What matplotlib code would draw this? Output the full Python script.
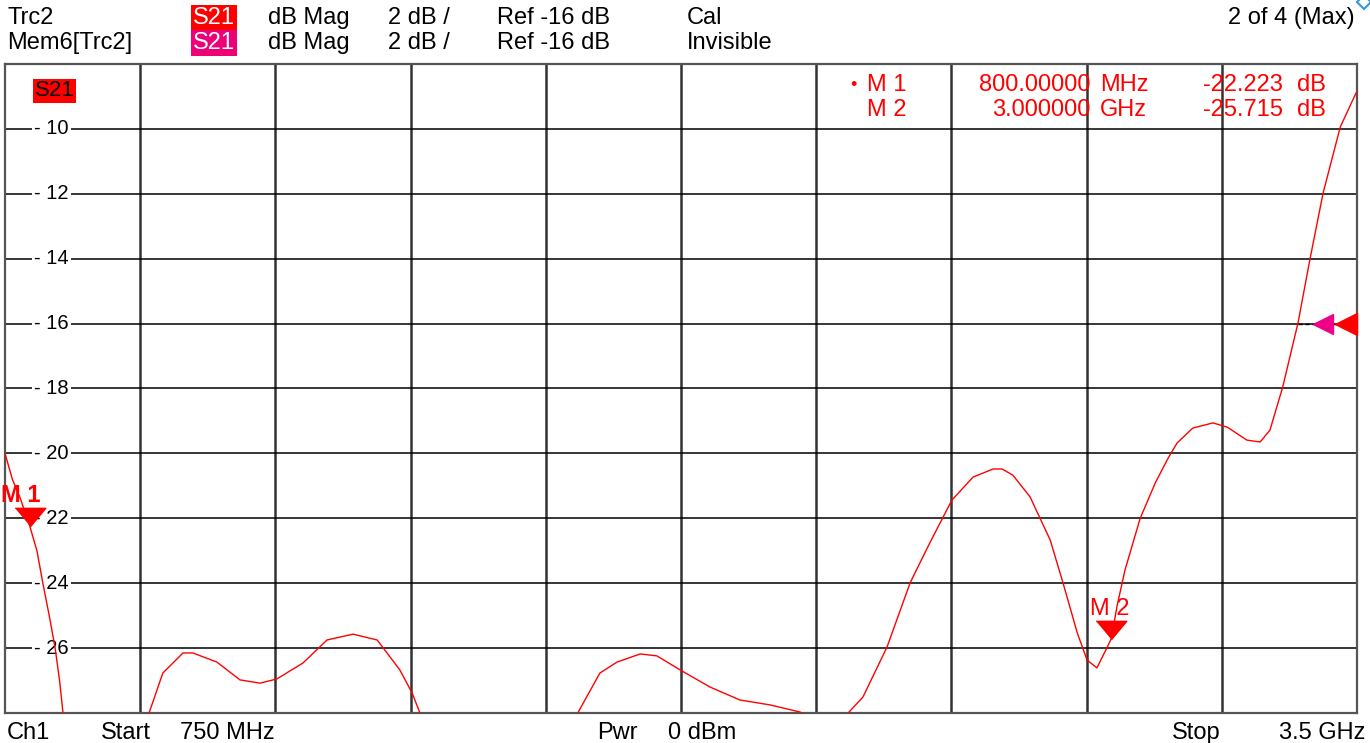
import numpy as np
import matplotlib
matplotlib.use('Agg')
from matplotlib import pyplot as plt
from matplotlib import transforms
from matplotlib.lines import Line2D

plt.rcParams['font.family'] = ['Liberation Sans', 'DejaVu Sans']

# trace (MHz, dB)
freq_mhz = [750, 765, 780, 800, 815, 827, 840, 852, 861, 868, 880,
            1030, 1043, 1071, 1112, 1132, 1181, 1228, 1269, 1303, 1356, 1405,
            1458, 1507, 1553, 1578, 1594, 1610,
            1900, 1915, 1960, 1995, 2042, 2076, 2123, 2184, 2245, 2306, 2367,
            2410, 2450, 2465, 2495, 2544, 2591, 2631, 2676, 2719, 2760, 2778,
            2800, 2835, 2876, 2902, 2931, 2951, 2971, 2992, 3000, 3012, 3028,
            3059, 3090, 3116, 3134, 3166, 3207, 3236, 3276, 3303, 3323, 3349,
            3380, 3404, 3431, 3466, 3496, 3500]
s21_db = [-20.0, -20.8, -21.34, -22.223, -23.0, -24.0, -25.0, -26.0, -27.0, -28.0, -29.0,
          -28.8, -28.0, -26.77, -26.15, -26.15, -26.43, -26.98, -27.08, -26.95, -26.46, -25.75,
          -25.57, -25.75, -26.67, -27.38, -28.0, -28.8,
          -28.6, -28.0, -26.77, -26.43, -26.18, -26.24, -26.67, -27.2, -27.6, -27.75, -27.97,
          -28.3, -28.5, -28.0, -27.51, -25.97, -23.99, -22.76, -21.44, -20.73, -20.48, -20.48,
          -20.67, -21.34, -22.67, -23.99, -25.53, -26.37, -26.61, -25.97, -25.715, -24.7, -23.6,
          -22.0, -20.9, -20.14, -19.68, -19.22, -19.06, -19.19, -19.59, -19.65, -19.28, -17.95,
          -15.98, -14.04, -11.98, -9.94, -8.96, -8.85]

start_mhz = 750
stop_mhz = 3500
ref_db = -16
db_per_div = 2
y_ticks = [-10, -12, -14, -16, -18, -20, -22, -24, -26]

markers = ['M 1', 'M 2']
marker_freq = [800, 3000]
marker_db = [-22.223, -25.715]
marker_freq_txt = ['800.00000', '3.000000']
marker_unit = ['MHz', 'GHz']
marker_db_txt = ['-22.223', '-25.715']

W, H = 1370, 743
fig = plt.figure(figsize=(W / 100, H / 100), dpi=100)


def put(x, y, s, **kw):
    # place text by screen pixel (from top-left)
    kw.setdefault('va', 'center')
    kw.setdefault('fontsize', 17)
    return fig.text(x / W, 1 - y / H, s, **kw)


ax = fig.add_axes([5 / W, 1 - 713 / H, 1352 / W, 649 / H])
ax.set_xlim(start_mhz, stop_mhz)
ax.set_ylim(ref_db - 6 * db_per_div, ref_db + 4 * db_per_div)
ax.set_xticks([])
ax.set_yticks([])
for s in ax.spines.values():
    s.set_color('#555555')
    s.set_linewidth(1.6)

# graticule
step = (stop_mhz - start_mhz) / 10
for k in range(1, 10):
    ax.axvline(start_mhz + k * step, color='#333333', lw=1.8, zorder=1)
for v in y_ticks:
    ax.axhline(v, color='black', lw=1.1, zorder=1)
    ax.text(0.0345, v, str(v).replace('-', '- '), transform=ax.get_yaxis_transform(),
            ha='center', va='center', fontsize=14.5, zorder=2,
            bbox=dict(facecolor='white', edgecolor='none', pad=1.5))

ax.plot(freq_mhz, s21_db, color='#ff0000', lw=1.0, zorder=3)

# marker triangles
tri = [(-5, 3), (5, 3), (0, -3)]
up = transforms.offset_copy(ax.transData, fig=fig, x=0, y=9, units='dots')
for i in range(2):
    ax.plot(marker_freq[i], marker_db[i], marker=tri, ms=22, color='#ff0000',
            transform=up, zorder=5, clip_on=False)
put(1, 495, 'M 1', color='#ff0000', fontweight='bold')
put(1110, 609, 'M 2', color='#ff0000', ha='center')

# reference level arrows
ax.plot([3380, 3490], [ref_db, ref_db], color='black', lw=1.0, ls=(0, (3, 2)), zorder=4)
ax.plot(3431, ref_db, marker='<', ms=14, color='#ee0088', zorder=5, clip_on=False)
ax.plot(3478, ref_db, marker='<', ms=16, color='#ff0000', zorder=5, clip_on=False)

# S21 label in plot
put(35, 91, 'S21', fontsize=16, color='black',
    bbox=dict(facecolor='#ff0000', edgecolor='none', pad=1.2))

# marker readout
rows = [85, 110]
red = '#ff0000'
put(850, 85, '•', color=red, fontsize=13)
for i in range(2):
    yy = rows[i]
    put(867, yy, markers[i], color=red)
    put(1090, yy, marker_freq_txt[i], color=red, ha='right')
    put(1100, yy, marker_unit[i], color=red)
    put(1283, yy, marker_db_txt[i], color=red, ha='right')
    put(1297, yy, 'dB', color=red)

# header
for yy, name, box in [(18, 'Trc2', '#ff0000'), (43, 'Mem6[Trc2]', '#ee0077')]:
    put(7, yy, name)
    put(193, yy, 'S21', color='white',
        bbox=dict(facecolor=box, edgecolor='none', pad=1.2))
    put(268, yy, 'dB Mag')
    put(388, yy, '2 dB /')
    put(497, yy, 'Ref -16 dB')
put(687, 18, 'Cal')
put(687, 43, 'Invisible')
put(1355, 18, '2 of 4 (Max)', ha='right')
fig.add_artist(Line2D([1364 / W], [1 - 2 / H], marker='D', ms=7, mfc='none', mec='#3399dd',
                      mew=1.5, transform=fig.transFigure, clip_on=False))

# footer
put(7, 733, 'Ch1')
put(101, 733, 'Start')
put(180, 733, '750 MHz')
put(597, 733, 'Pwr')
put(668, 733, '0 dBm')
put(1172, 733, 'Stop')
put(1365, 733, '3.5 GHz', ha='right')

fig.savefig('out.png', dpi=100, facecolor='white')
